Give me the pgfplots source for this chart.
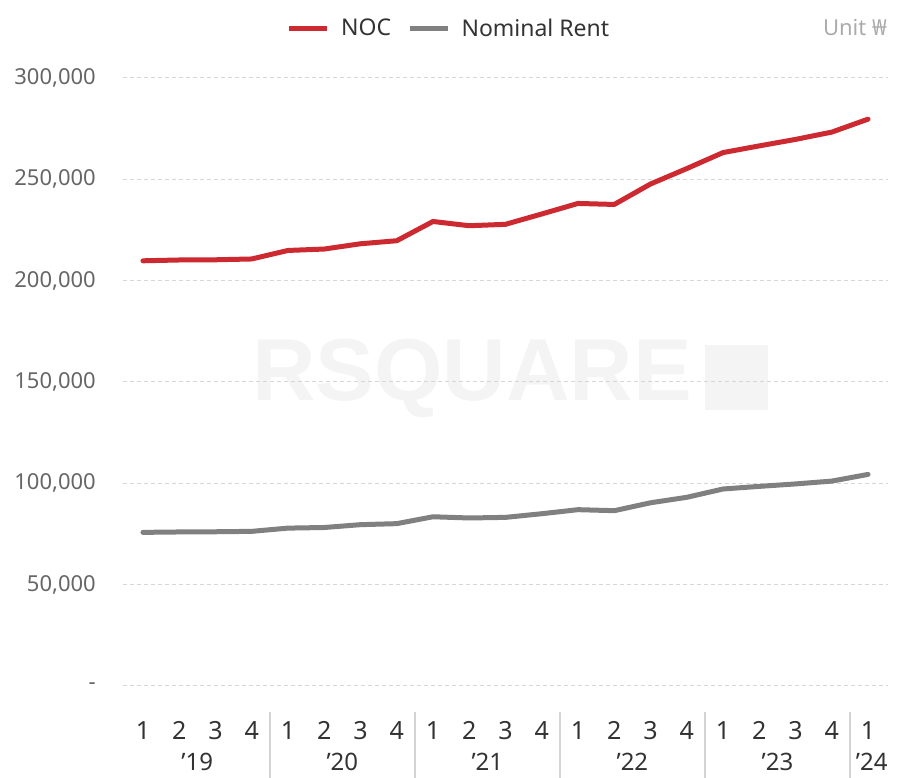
\documentclass[border=0pt]{standalone}
\usepackage{fontspec}
\setmainfont{Noto Sans}
\newfontfamily\wmfont{Liberation Sans}
\usepackage{pgfplots}
\pgfplotsset{compat=1.18}
\definecolor{nocred}{HTML}{CC2A30}
\definecolor{rentgray}{HTML}{808080}
\definecolor{gridc}{HTML}{D6D6D6}
\definecolor{ylab}{HTML}{666666}
\definecolor{xlab}{HTML}{333333}
\definecolor{sepc}{HTML}{D4D4D4}
\definecolor{wm}{HTML}{F4F4F4}
\definecolor{unitc}{HTML}{ABABAB}
\begin{document}
\begin{tikzpicture}[x=1pt,y=1pt]
\useasboundingbox (0,0) rectangle (898,778);
% watermark
\node[text=wm, font=\wmfont\bfseries\fontsize{88}{88}\selectfont, anchor=west, inner sep=0] at (252,400) {RSQUARE};
\fill[wm] (705,368) rectangle (768,433);
\begin{axis}[
  at={(123pt,92pt)}, anchor=south west, scale only axis,
  width=765pt, height=608pt,
  xmin=-0.55, xmax=20.55, ymin=0, ymax=300000,
  clip=false,
  axis line style={draw=none},
  tick style={draw=none},
  ymajorgrids=true,
  grid style={gridc, line width=1pt, dash pattern=on 4pt off 3pt},
  ytick={0,50000,100000,150000,200000,250000,300000},
  yticklabels={-,{50,000},{100,000},{150,000},{200,000},{250,000},{300,000}},
  scaled y ticks=false,
  yticklabel style={anchor=east, inner sep=0pt, xshift=-27pt, text=ylab, font=\fontsize{22}{22}\selectfont},
  xtick={0,...,20},
  xticklabels={1,2,3,4,1,2,3,4,1,2,3,4,1,2,3,4,1,2,3,4,1},
  xticklabel style={anchor=base, inner sep=0pt, yshift=-54pt, text=xlab, font=\fontsize{25}{25}\selectfont},
  legend style={at={(0.426,1.082)}, anchor=center, draw=none, fill=none,
    font=\fontsize{23}{23}\selectfont, text=xlab,
    /tikz/every even column/.append style={column sep=14pt}},
  legend columns=2,
  legend image code/.code={\path[draw=none] (0pt,0pt) -- (50pt,0pt);\draw[#1, line cap=butt] (0pt,0pt) -- (38pt,0pt);},
]
\addplot[nocred, line width=5pt, line join=round, line cap=round] coordinates {
(0,209800) (1,210200) (2,210300) (3,210700) (4,214900) (5,215600) (6,218200) (7,219700)
(8,229200) (9,227100) (10,227800) (11,232900) (12,238100) (13,237600) (14,247700) (15,255300)
(16,263200) (17,266500) (18,269700) (19,273300) (20,279700)
};
\addlegendentry{NOC}
\addplot[rentgray, line width=5pt, line join=round, line cap=round] coordinates {
(0,75800) (1,76000) (2,76100) (3,76300) (4,77900) (5,78200) (6,79600) (7,80100)
(8,83500) (9,82900) (10,83200) (11,85000) (12,87000) (13,86500) (14,90400) (15,93100)
(16,97200) (17,98500) (18,99700) (19,101100) (20,104400)
};
\addlegendentry{Nominal Rent}
% separators
\pgfplotsinvokeforeach{3.5,7.5,11.5,15.5,19.5}{
  \draw[sepc, line width=2pt] ([yshift=-26pt]axis cs:#1,0) -- ([yshift=-92pt]axis cs:#1,0);
}
% year labels
\node[anchor=base, inner sep=0pt, text=xlab, font=\fontsize{24}{24}\selectfont] at ([yshift=-85pt]axis cs:1.5,0) {'19};
\node[anchor=base, inner sep=0pt, text=xlab, font=\fontsize{24}{24}\selectfont] at ([yshift=-85pt]axis cs:5.5,0) {'20};
\node[anchor=base, inner sep=0pt, text=xlab, font=\fontsize{24}{24}\selectfont] at ([yshift=-85pt]axis cs:9.5,0) {'21};
\node[anchor=base, inner sep=0pt, text=xlab, font=\fontsize{24}{24}\selectfont] at ([yshift=-85pt]axis cs:13.5,0) {'22};
\node[anchor=base, inner sep=0pt, text=xlab, font=\fontsize{24}{24}\selectfont] at ([yshift=-85pt]axis cs:17.5,0) {'23};
\node[anchor=base, inner sep=0pt, text=xlab, font=\fontsize{24}{24}\selectfont] at ([yshift=-85pt]axis cs:20.1,0) {'24};
\end{axis}
\node[anchor=east, inner sep=0pt, text=unitc, font=\fontsize{22}{22}\selectfont] at (887,750) {Unit ₩};
\end{tikzpicture}
\end{document}
